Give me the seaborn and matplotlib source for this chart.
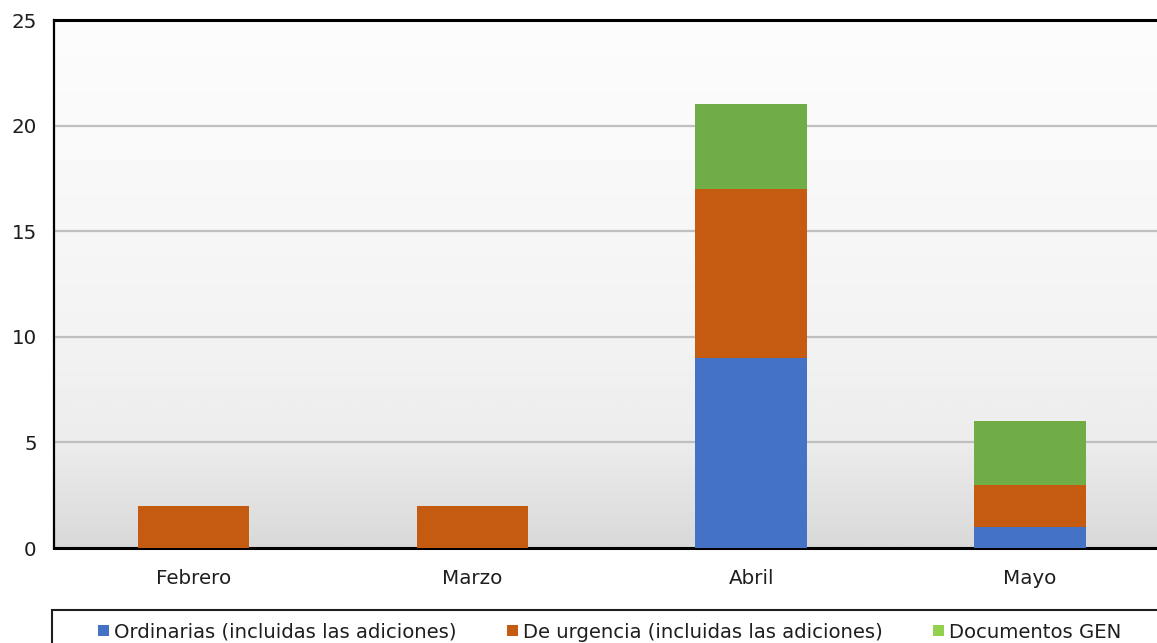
import numpy as np
import pandas as pd
import matplotlib
matplotlib.use("Agg")
import matplotlib.pyplot as plt
from matplotlib.patches import Patch, Rectangle
from matplotlib.colors import LinearSegmentedColormap
import seaborn as sns

# Monthly counts by type
months = ["Febrero", "Marzo", "Abril", "Mayo"]
ordinarias = [0, 0, 9, 1]
urgencia = [2, 2, 8, 2]
gen_docs = [0, 0, 4, 3]

series_labels = [
    "Ordinarias (incluidas las adiciones)",
    "De urgencia (incluidas las adiciones)",
    "Documentos GEN",
]
bar_colors = ["#4472C4", "#C55A11", "#70AD47"]
legend_colors = ["#4472C4", "#C55A11", "#92D050"]

sns.set_theme(style="white")
plt.rcParams["font.family"] = ["DejaVu Sans"]
text_color = "#1E1E1E"
fs = 14.3
legend_fs = 14.1

df = pd.DataFrame({
    "mes": months,
    "ord": ordinarias,
    "urg": urgencia,
    "gen": gen_docs,
})
# cumulative tops for stacking (drawn back to front)
df["top_ord"] = df["ord"]
df["top_urg"] = df["ord"] + df["urg"]
df["top_gen"] = df["ord"] + df["urg"] + df["gen"]

W, H = 1157, 643
fig = plt.figure(figsize=(W / 100, H / 100), dpi=100)
ax = fig.add_axes([54 / W, 1 - 548 / H, (1169.5 - 54) / W, (548 - 20) / H])

# vertical gradient background, darker towards the baseline
grad = np.linspace(1, 0, 512).reshape(-1, 1)
bg_cmap = LinearSegmentedColormap.from_list(
    "bg",
    [(0.0, "#D9D9D9"), (0.2, "#EDEDED"), (0.4, "#F3F3F3"),
     (0.6, "#F7F7F7"), (0.8, "#FAFAFA"), (1.0, "#FDFDFD")])
ax.imshow(grad, cmap=bg_cmap, vmin=0, vmax=1, aspect="auto",
          extent=(0, 1, 0, 1), transform=ax.transAxes, zorder=0,
          interpolation="bilinear")

for col, color in zip(["top_gen", "top_urg", "top_ord"], bar_colors[::-1]):
    sns.barplot(data=df, x="mes", y=col, color=color, width=0.4,
                saturation=1, ax=ax, zorder=3, linewidth=0)

ax.set_ylim(0, 25)
ax.set_xlim(-0.5, 3.5)
ax.set_yticks([0, 5, 10, 15, 20, 25])
ax.set_xlabel("")
ax.set_ylabel("")
ax.grid(axis="y", color="#BFBFBF", linewidth=1.6, zorder=1)
ax.grid(axis="x", visible=False)
ax.set_axisbelow(True)

for s in ["left", "bottom", "top"]:
    ax.spines[s].set_visible(True)
    ax.spines[s].set_color("black")
ax.spines["left"].set_linewidth(1.6)
ax.spines["bottom"].set_linewidth(2.2)
ax.spines["top"].set_linewidth(2.2)
ax.spines["right"].set_visible(False)

ax.tick_params(axis="y", length=0, pad=12.5, labelsize=fs, labelcolor=text_color)
ax.tick_params(axis="x", length=0, pad=15, labelsize=fs, labelcolor=text_color)

# legend below the plot
handles = [Patch(facecolor=c, edgecolor="none") for c in legend_colors]
fig.legend(handles, series_labels, loc="center left",
           bbox_to_anchor=(98 / W, 1 - 632 / H), bbox_transform=fig.transFigure,
           ncol=3, frameon=False, borderpad=0, borderaxespad=0,
           fontsize=legend_fs, handlelength=0.55, handleheight=0.55,
           handletextpad=0.25, columnspacing=2.6, labelcolor=text_color)
fig.patches.append(Rectangle((52 / W, -0.2), 1.2, (1 - 610 / H) + 0.2,
                             transform=fig.transFigure, facecolor="none",
                             edgecolor="#1E1E1E", linewidth=1.5))

fig.savefig("out.png", dpi=100, facecolor="white")
